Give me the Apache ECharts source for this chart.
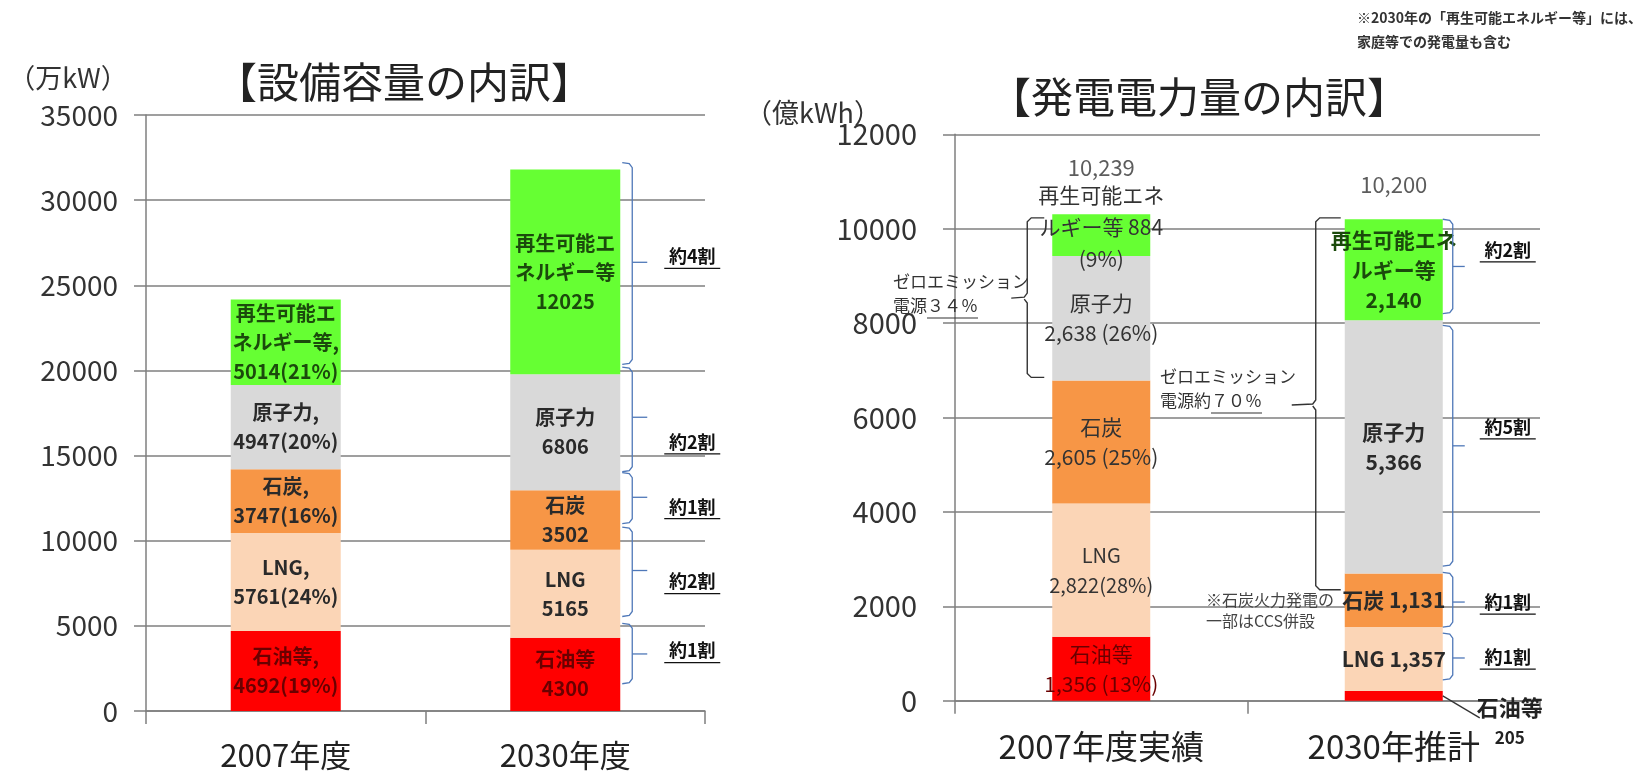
<!DOCTYPE html>
<html><head><meta charset="utf-8">
<script src="https://cdn.jsdelivr.net/npm/echarts@6/dist/echarts.min.js"></script>
<style>html,body{margin:0;padding:0;background:#fff}#c{width:1646px;height:771px}</style>
</head><body><div id="c"></div>
<script>
// ---------------- data ----------------
const capCategories = ['2007年度', '2030年度'];
const capOil     = [4692, 4300];
const capLNG     = [5761, 5165];
const capCoal    = [3747, 3502];
const capNuclear = [4947, 6806];
const capRenew   = [5014, 12025];
const capPct2007 = { oil: 19, lng: 24, coal: 16, nuclear: 20, renew: 21 };
const capAxis = { min: 0, max: 35000, interval: 5000 };

const genCategories = ['2007年度実績', '2030年推計'];
const genOil     = [1356, 205];
const genLNG     = [2822, 1357];
const genCoal    = [2605, 1131];
const genNuclear = [2638, 5366];
const genRenew   = [884, 2140];
const genPct2007 = { oil: 13, lng: 28, coal: 25, nuclear: 26, renew: 9 };
const genTotals  = [10239, 10200];
const genAxis = { min: 0, max: 12000, interval: 2000 };

// share annotations for 2030 (top, bottom, tick, label) in axis units
const capShareText  = ['約4割', '約2割', '約1割', '約2割', '約1割'];
const capShareSpans = [[32200, 20350, 26350, 26700], [20200, 14050, 17250, 15800], [14000, 11000, 12550, 12000], [10800, 5550, 8250, 7600], [5150, 1600, 3350, 3550]];
const genShareText  = ['約2割', '約5割', '約1割', '約1割'];
const genShareSpans = [[10200, 8200, 9200, 9550], [7950, 2850, 5400, 5800], [2720, 1560, 2090, 2090], [1430, 440, 905, 925]];
// zero-emission brackets (top, bottom, tick)
const zeroSpan2007 = [10230, 6850, 8530];
const zeroSpan2030 = [10230, 2350, 6265];

// ---------------- chart ----------------
const FONT = '"Noto Sans CJK JP","Noto Sans",sans-serif';
const fmt = v => v.toLocaleString('en-US');
const COL = { oil: '#FF0000', lng: '#FBD5B6', coal: '#F79646', nuclear: '#D9D9D9', renew: '#66FF33' };
const TXT = { oil: '#6a0000', lng: '#2a2a2a', coal: '#2a2a2a', nuclear: '#2a2a2a', renew: '#1b4a0c' };
const AX = '#7f7f7f';

const capDefs = [
  { key: 'oil', name: '石油等', data: capOil, a: v => `石油等,\n${v}(${capPct2007.oil}%)`, b: v => `石油等\n${v}` },
  { key: 'lng', name: 'LNG', data: capLNG, a: v => `LNG,\n${v}(${capPct2007.lng}%)`, b: v => `LNG\n${v}` },
  { key: 'coal', name: '石炭', data: capCoal, a: v => `石炭,\n${v}(${capPct2007.coal}%)`, b: v => `石炭\n${v}` },
  { key: 'nuclear', name: '原子力', data: capNuclear, a: v => `原子力,\n${v}(${capPct2007.nuclear}%)`, b: v => `原子力\n${v}` },
  { key: 'renew', name: '再生可能エネルギー等', data: capRenew, a: v => `再生可能エ\nネルギー等,\n${v}(${capPct2007.renew}%)`, b: v => `再生可能エ\nネルギー等\n${v}` }
];
const genDefs = [
  { key: 'oil', name: '石油等', data: genOil, a: v => `石油等\n${fmt(v)} (${genPct2007.oil}%)`, b: v => `{n|石油等}\n{v|${fmt(v)}}` },
  { key: 'lng', name: 'LNG', data: genLNG, a: v => `LNG\n${fmt(v)}(${genPct2007.lng}%)`, b: v => `LNG ${fmt(v)}` },
  { key: 'coal', name: '石炭', data: genCoal, a: v => `石炭\n${fmt(v)} (${genPct2007.coal}%)`, b: v => `石炭 ${fmt(v)}` },
  { key: 'nuclear', name: '原子力', data: genNuclear, a: v => `原子力\n${fmt(v)} (${genPct2007.nuclear}%)`, b: v => `原子力\n${fmt(v)}` },
  { key: 'renew', name: '再生可能エネルギー等', data: genRenew, a: v => `再生可能エネ\nルギー等 ${fmt(v)}\n(${genPct2007.renew}%)`, b: v => `再生可能エネ\nルギー等\n${fmt(v)}` }
];

const series = [];
capDefs.forEach(d => {
  series.push({
    type: 'bar', name: d.name, stack: 'cap', xAxisIndex: 0, yAxisIndex: 0, barWidth: 110,
    itemStyle: { color: COL[d.key] },
    label: { show: true, position: 'inside', fontFamily: FONT, fontSize: 20, fontWeight: 'bold', lineHeight: 29, color: TXT[d.key] },
    data: d.data.map((v, i) => ({ value: v, label: { formatter: i === 0 ? d.a(v) : d.b(v) } }))
  });
});
genDefs.forEach(d => {
  series.push({
    type: 'bar', name: d.name, stack: 'gen', xAxisIndex: 1, yAxisIndex: 1, barWidth: 98,
    itemStyle: { color: COL[d.key] },
    label: { show: true, position: 'inside', fontFamily: FONT, fontSize: 21, lineHeight: 30, color: TXT[d.key] },
    data: d.data.map((v, i) => {
      const it = { value: v, label: { formatter: i === 0 ? d.a(v) : d.b(v) } };
      if (i === 0) {
        it.label.fontWeight = 'normal';
        it.label.color = d.key === 'oil' ? TXT.oil : '#333';
        if (d.key === 'renew') { it.label.offset = [0, -8]; it.label.lineHeight = 32; }
        if (d.key === 'lng') it.label.fontSize = 20;
      } else {
        it.label.fontWeight = 'bold';
        if (d.key === 'oil') {
          Object.assign(it.label, {
            position: 'right', distance: 0, align: 'center', offset: [67, 27], color: '#222',
            rich: { n: { fontFamily: FONT, fontSize: 22, fontWeight: 'bold', color: '#222', lineHeight: 30 },
                    v: { fontFamily: FONT, fontSize: 17, color: '#222', lineHeight: 30 } }
          });
        }
      }
      return it;
    })
  });
});
const genStackTop = genCategories.map((c, i) => genOil[i] + genLNG[i] + genCoal[i] + genNuclear[i] + genRenew[i]);
series.push({
  type: 'scatter', xAxisIndex: 1, yAxisIndex: 1, symbolSize: 0, silent: true, z: 5,
  label: { show: true, position: 'inside', fontFamily: FONT, fontSize: 22, color: '#333' },
  data: genCategories.map((c, i) => ({ value: [i, genStackTop[i]], label: { formatter: fmt(genTotals[i]), offset: [0, i === 0 ? -47 : -35] } }))
});

function xAx(grid, data, size) {
  return {
    gridIndex: grid, type: 'category', data: data,
    axisLine: { lineStyle: { color: AX, width: 1.5 } },
    axisTick: { show: true, length: 13, lineStyle: { color: AX, width: 1.5 } },
    axisLabel: { fontFamily: FONT, fontSize: size, color: '#222', margin: 29 }
  };
}
function yAx(grid, a, margin, size) {
  return {
    gridIndex: grid, type: 'value', min: a.min, max: a.max, interval: a.interval,
    axisLine: { show: true, lineStyle: { color: AX, width: 1.5 } },
    axisTick: { show: true, length: 12, lineStyle: { color: AX, width: 1.5 } },
    splitLine: { lineStyle: { color: AX, width: 1.5 } },
    axisLabel: { fontFamily: FONT, fontSize: size, color: '#333', margin: margin, formatter: v => String(v) }
  };
}

const chart = echarts.init(document.getElementById('c'));
chart.setOption({
  animation: false,
  backgroundColor: '#fff',
  grid: [
    { left: 146, right: 941, top: 115, bottom: 58.5 },
    { left: 955, right: 106, top: 134.3, bottom: 70.3 }
  ],
  xAxis: [xAx(0, capCategories, 31), xAx(1, genCategories, 33)],
  yAxis: [yAx(0, capAxis, 28, 28), yAx(1, genAxis, 38, 29)],
  series: series
});

// ---------------- annotations ----------------
const g = [];
const T = (x, y, text, size, opt) => g.push(Object.assign({
  type: 'text', x: x, y: y, silent: true, z: 20,
  style: Object.assign({ text: text, fontFamily: FONT, fontSize: size, fill: '#222', align: 'left', verticalAlign: 'middle' }, (opt && opt.style) || {})
}, opt && opt.el || {}));
const L = (pts, color, w) => g.push({ type: 'polyline', silent: true, z: 20, shape: { points: pts }, style: { stroke: color, lineWidth: w || 1.5, fill: null } });

// titles and units
T(68, 78, '（万kW）', 27, { style: { align: 'center', fill: '#333' } });
T(404, 82, '【設備容量の内訳】', 42, { style: { align: 'center', fill: '#222' } });
T(813, 113, '（億kWh）', 27, { style: { align: 'center', fill: '#333' } });
T(1199, 97, '【発電電力量の内訳】', 42, { style: { align: 'center', fill: '#222' } });
T(1357, 18, '※2030年の「再生可能エネルギー等」には、', 14, { style: { fill: '#333', fontWeight: 'bold' } });
T(1357, 42, '家庭等での発電量も含む', 14, { style: { fill: '#333', fontWeight: 'bold' } });

const px = (grid, cat, val) => chart.convertToPixel({ gridIndex: grid }, [cat, val]);
const BLUE = '#4f78b8';

// right-side braces + share labels
function braces(grid, barHalf, spans, texts, gap, tickLen, labelDx) {
  spans.forEach((s, k) => {
    const top = px(grid, 1, s[0]), bot = px(grid, 1, s[1]), mid = px(grid, 1, s[2]), lab = px(grid, 1, s[3]);
    const x = top[0] + barHalf + gap;
    L([[x - 10, top[1]], [x - 3, top[1] + 1], [x, top[1] + 5], [x, bot[1] - 5], [x - 3, bot[1] - 1], [x - 10, bot[1]]], BLUE, 1.3);
    L([[x, mid[1]], [x + tickLen, mid[1]]], BLUE, 1.3);
    const cx = top[0] + barHalf + labelDx;
    T(cx, lab[1], texts[k], 18, { style: { align: 'center', fill: '#111', fontWeight: 'bold' } });
    L([[cx - 28, lab[1] + 12], [cx + 28, lab[1] + 12]], '#111', 1.3);
  });
}
braces(0, 55, capShareSpans, capShareText, 12, 15, 72);
braces(1, 49, genShareSpans, genShareText, 10, 12, 65);

// zero-emission brackets
function leftBracket(cat, span, dxFromBar, hook, tick) {
  const top = px(1, cat, span[0]), bot = px(1, cat, span[1]), mid = px(1, cat, span[2]);
  const x = top[0] - 49 - dxFromBar;
  L([[x + hook, top[1]], [x + 4, top[1]], [x, top[1] + 4], [x, mid[1] - 5], [x - 3, mid[1] - 1], [x - tick, mid[1]]], '#333', 1.4);
  L([[x - 3, mid[1] + 1], [x, mid[1] + 5], [x, bot[1] - 4], [x + 4, bot[1]], [x + hook, bot[1]]], '#333', 1.4);
}
leftBracket(0, zeroSpan2007, 25, 17, 16);
leftBracket(1, zeroSpan2030, 29, 25, 24);

T(893, 282, 'ゼロエミッション', 17, { style: { fill: '#333' } });
T(893, 306, '電源３４％', 17, { style: { fill: '#333' } });
L([[927, 318], [978, 318]], '#333', 1.2);
T(1160, 377, 'ゼロエミッション', 17, { style: { fill: '#333' } });
T(1160, 401, '電源約７０％', 17, { style: { fill: '#333' } });
L([[1211, 413], [1262, 413]], '#333', 1.2);
T(1206, 600, '※石炭火力発電の', 16, { style: { fill: '#444' } });
T(1206, 621, '一部はCCS併設', 16, { style: { fill: '#444' } });

// leader line for 2030 oil label
(function () {
  const p = px(1, 1, genOil[1] / 2);
  L([[p[0] + 49, p[1]], [p[0] + 86, p[1] + 22]], '#333', 1.3);
})();

chart.setOption({ graphic: g });
</script>
</body></html>
